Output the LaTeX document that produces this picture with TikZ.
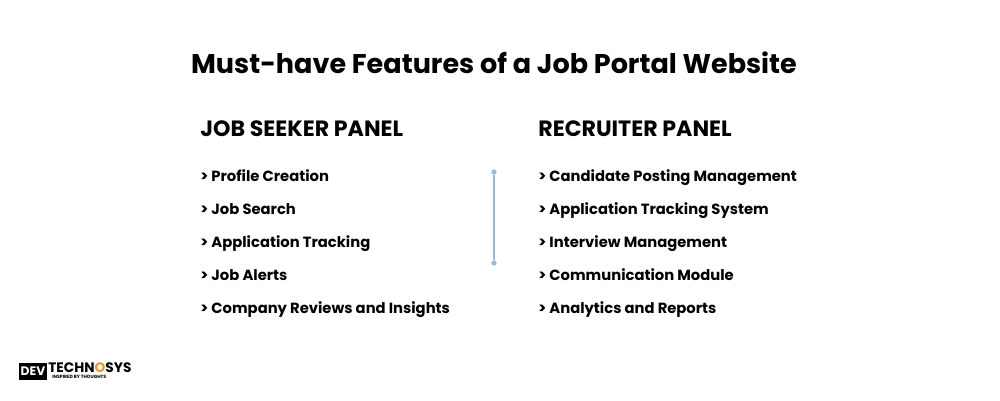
\documentclass[tikz,border=0pt]{standalone}
\usepackage{fontspec}
\setmainfont{Poppins}
\definecolor{divblue}{RGB}{150,185,220}
\definecolor{logoorange}{RGB}{240,150,30}
\tikzset{
  head/.style={anchor=base west, font=\fontsize{12.6}{15}\selectfont\bfseries, inner sep=0pt},
  item/.style={anchor=base west, font=\fontsize{8.4}{10}\selectfont\bfseries, inner sep=0pt},
  tip/.style={circle, fill=divblue, inner sep=0pt, minimum size=3pt}
}
\begin{document}
\begin{tikzpicture}[x=0.02cm, y=-0.02cm]
  \useasboundingbox (0,0) rectangle (1000,400);
  \node[font=\fontsize{15.4}{18}\selectfont\bfseries] (title) at (494,63) {Must-have Features of a Job Portal Website};
  % job seeker side
  \node[head] (seeker) at (200,136) {JOB SEEKER PANEL};
  \foreach \t [count=\i] in {Profile Creation, Job Search, Application Tracking, Job Alerts, Company Reviews and Insights}
    \node[item] (s\i) at (200,148+33*\i) {> \t};
  % recruiter side
  \node[head] (recruiter) at (538,136) {RECRUITER PANEL};
  \foreach \t [count=\i] in {Candidate Posting Management, Application Tracking System, Interview Management, Communication Module, Analytics and Reports}
    \node[item] (r\i) at (538,148+33*\i) {> \t};
  % divider
  \node[tip] (dtop) at (494,172) {};
  \node[tip] (dbot) at (494,263) {};
  \draw[divblue, line width=0.8pt] (dtop) -- (dbot);
  % logo
  \node[fill=black, text=white, inner sep=1pt, font=\fontsize{7}{8}\selectfont\bfseries, minimum width=0.46cm, minimum height=0.34cm] (dev) at (33,371) {DEV};
  \node[anchor=base west, inner sep=0pt, font=\fontsize{7.8}{8}\selectfont\bfseries] (tech) at (48,372) {TECHN\textcolor{logoorange}{O}SYS};
  \node[anchor=north west, inner sep=0pt, font=\fontsize{2.6}{3}\selectfont\bfseries] (tag) at (52,374.5) {INSPIRED BY THOUGHTS};
\end{tikzpicture}
\end{document}
